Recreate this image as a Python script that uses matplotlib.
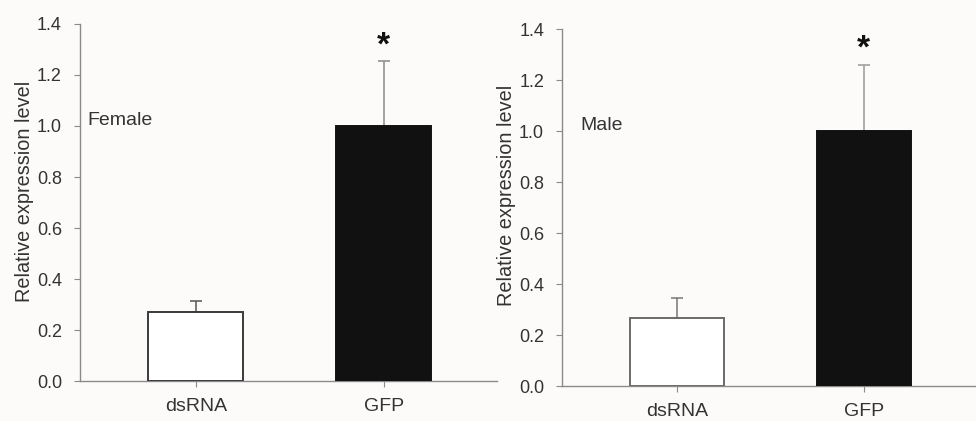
import matplotlib
matplotlib.use("Agg")
import matplotlib.pyplot as plt

categories = ["dsRNA", "GFP"]
female_values = [0.27, 1.00]
female_errors = [0.045, 0.255]
male_values = [0.265, 1.00]
male_errors = [0.08, 0.258]
panel_labels = ["Female", "Male"]
yticks = [0.0, 0.2, 0.4, 0.6, 0.8, 1.0, 1.2, 1.4]
star_y = [1.315, 1.32]
label_x = [0.017, 0.043]
ylabel_pos = [(-0.110, 0.532), (-0.111, 0.535)]

plt.rcParams['font.family'] = ['Liberation Sans', 'DejaVu Sans']
BG = '#fdfbfa'
AX = '#8a8a8a'
TXT = '#333333'

fig = plt.figure(figsize=(9.76, 4.21), dpi=100, facecolor=BG)
axes = [fig.add_axes([0.082, 0.095, 0.427, 0.848]),
        fig.add_axes([0.576, 0.083, 0.424, 0.848])]

data = [(female_values, female_errors), (male_values, male_errors)]
edge_cols = [['#3a3a3a', '#111111'], ['#6a6a6a', '#111111']]
err_cols = [['#555555', '#8a8a8a'], ['#777777', '#9a9a9a']]

for i, ax in enumerate(axes):
    vals, errs = data[i]
    ax.set_facecolor(BG)
    x = list(range(len(categories)))
    ax.bar(x, vals, width=0.505, color=['white', '#111111'],
           edgecolor=edge_cols[i], linewidth=1.4, zorder=3)
    for j in x:
        ax.errorbar(j, vals[j], yerr=[[0], [errs[j]]], fmt='none',
                    ecolor=err_cols[i][j], elinewidth=1.1, capsize=4,
                    capthick=1.1, zorder=2)
    ax.text(1, star_y[i], '*', ha='center', va='center', fontsize=24,
            fontweight='bold', color='#111111')
    ax.text(label_x[i], 1.02, panel_labels[i], transform=ax.get_yaxis_transform(),
            ha='left', va='center', fontsize=14, color=TXT)
    ax.set_xlim(-0.615, 1.6)
    ax.set_ylim(0, 1.4)
    ax.set_yticks(yticks)
    ax.set_yticklabels([f"{t:.1f}" for t in yticks])
    ax.set_xticks(x)
    ax.set_xticklabels(categories)
    ax.set_ylabel('Relative expression level', fontsize=14.3, color=TXT)
    ax.yaxis.set_label_coords(*ylabel_pos[i])
    for s in ['top', 'right']:
        ax.spines[s].set_visible(False)
    for s in ['left', 'bottom']:
        ax.spines[s].set_color(AX)
        ax.spines[s].set_linewidth(1.0)
    ax.tick_params(axis='y', direction='out', length=4, color=AX,
                   labelsize=13, labelcolor=TXT, pad=9)
    ax.tick_params(axis='x', direction='out', length=4, color=AX,
                   labelsize=14, labelcolor=TXT, pad=8)

fig.savefig('out.png', dpi=100, facecolor=BG)
